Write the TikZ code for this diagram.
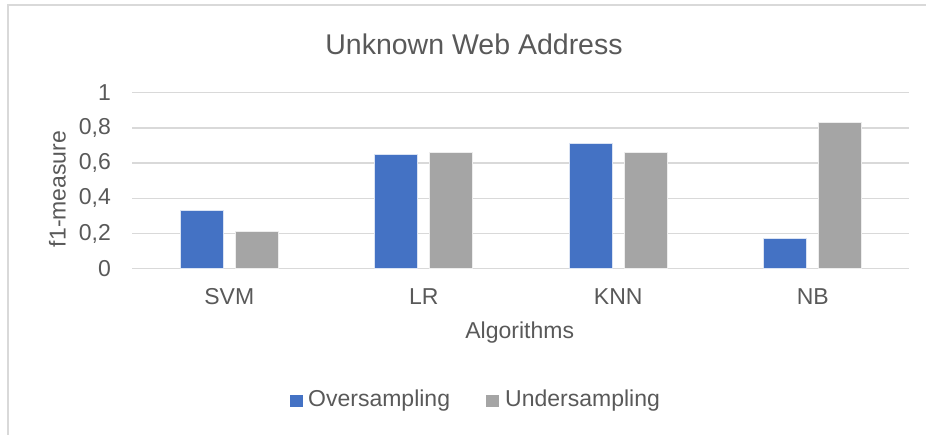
\documentclass[tikz,border=0pt]{standalone}
\usepackage{fontspec}
\setmainfont{Liberation Sans}
\definecolor{txt}{HTML}{595959}
\definecolor{gridc}{HTML}{D9D9D9}
\definecolor{blueb}{HTML}{4472C4}
\definecolor{grayb}{HTML}{A5A5A5}
\begin{document}
\begin{tikzpicture}[x=1pt,y=-1pt,
  lbl/.style={text=txt,inner sep=0pt,font=\fontsize{23}{27}\selectfont},
  ttl/.style={text=txt,inner sep=0pt,font=\fontsize{28.5}{33}\selectfont},
  gridline/.style={draw=gridc,line width=1.3pt},
  barO/.style={fill=blueb,draw=white!80!blueb,line width=0.6pt},
  barU/.style={fill=grayb,draw=white!80!grayb,line width=0.6pt}]
\useasboundingbox (0,0) rectangle (926,435);
% chart border
\draw[gridc,line width=1.5pt] (8,440) -- (8,5) -- (930,5);
% title
\node[ttl,anchor=base] (title) at (474,54.3) {Unknown Web Address};
% gridlines and tick labels
\foreach \i/\t in {0/0,1/{0,2},2/{0,4},3/{0,6},4/{0,8},5/1}{
  \draw[gridline] (132,268.7-35.2*\i) -- (909,268.7-35.2*\i);
  \node[lbl,anchor=east] (tick\i) at (111,268.7-35.2*\i) {\t};
}
% bars
\foreach \c/\o/\u/\n in {229.25/0.33/0.21/SVM,423.75/0.65/0.66/LR,618.25/0.71/0.66/KNN,812.75/0.17/0.83/NB}{
  \draw[barO] (\c-49,268.7) rectangle (\c-6,268.7-176*\o);
  \draw[barU] (\c+6,268.7) rectangle (\c+49,268.7-176*\u);
  \node[lbl,anchor=base] (cat\n) at (\c,305) {\n};
}
% axis titles
\node[lbl,anchor=base] (xtitle) at (519.7,339) {Algorithms};
\node[lbl,anchor=base,rotate=90] (ytitle) at (65.5,189) {f1-measure};
% legend
\fill[blueb] (290,395) rectangle (303,407);
\node[lbl,anchor=base west] (legO) at (308,406.7) {Oversampling};
\fill[grayb] (486,395) rectangle (499,407);
\node[lbl,anchor=base west] (legU) at (505,406.7) {Undersampling};
\end{tikzpicture}
\end{document}
